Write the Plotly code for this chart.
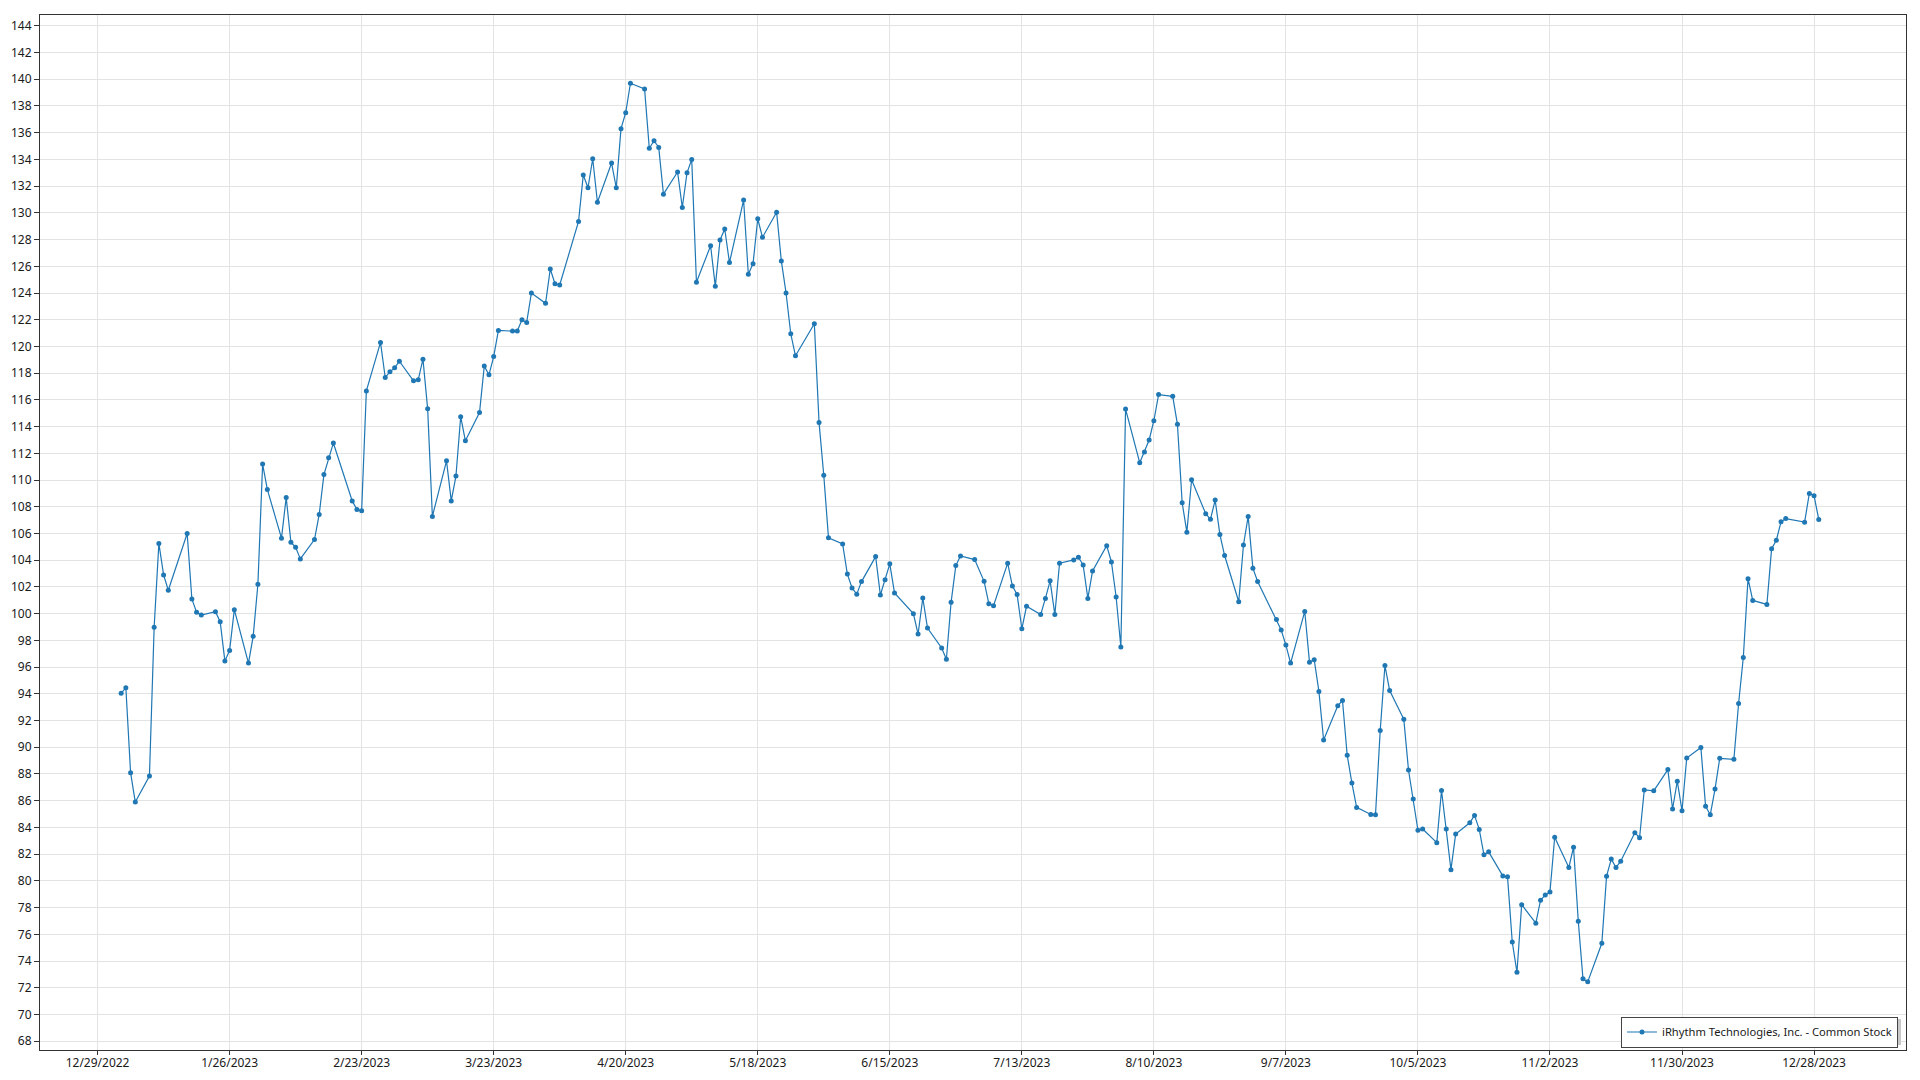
import pandas as pd
import plotly.graph_objects as go

series_name = "iRhythm Technologies, Inc. - Common Stock"

market_holidays = ["2023-01-02", "2023-01-16", "2023-02-20", "2023-04-07", "2023-05-29",
                   "2023-06-19", "2023-07-04", "2023-09-04", "2023-11-23", "2023-12-25"]
trade_dates = pd.bdate_range("2023-01-03", "2023-12-29", freq="C", holidays=market_holidays)

prices_jan_feb = [94.05, 94.45, 88.1, 85.9, 87.85, 98.98, 105.26, 102.9, 101.75, 106.0, 101.1, 100.1,
                  99.9, 100.15, 99.4, 96.45, 97.25, 100.3, 96.3, 98.3, 102.2, 111.2, 109.3,
                  105.65, 108.7, 105.35, 104.97, 104.1, 105.55, 107.43, 110.41, 111.67, 112.77,
                  108.44, 107.8, 107.7, 116.67, 120.3, 117.68]
prices_mar_apr = [118.1, 118.4, 118.9, 117.43, 117.5, 119.05, 115.33,
                  107.28, 111.44, 108.44, 110.3, 114.74, 112.94, 115.06, 118.53, 117.88, 119.24,
                  121.2, 121.15, 121.15, 122.0, 121.8, 124.0, 123.23, 125.8, 124.7, 124.6, 129.36,
                  132.84, 131.88, 134.05, 130.79, 133.73, 131.88, 136.3, 137.5, 139.7, 139.28,
                  134.84, 135.4, 134.9, 131.4]
prices_may_jun = [133.06, 130.4, 133.0, 134.0, 124.8, 127.54, 124.5, 127.97, 128.79, 126.28,
                  130.96, 125.41, 126.2, 129.56, 128.17, 130.05, 126.4, 124.0, 120.95, 119.3,
                  121.7, 114.3, 110.36, 105.68, 105.22, 102.96, 101.92, 101.46, 102.4, 104.27,
                  101.4, 102.53, 103.73, 101.55, 100.0, 98.47, 101.17, 98.92, 97.43, 96.59,
                  100.85, 103.6, 104.32]
prices_jul_aug = [104.05, 102.42, 100.75, 100.6, 103.78, 102.07, 101.43, 98.87, 100.55, 99.93,
                  101.14, 102.46, 99.93, 103.77, 104.02, 104.22, 103.65, 101.14, 103.2, 105.09,
                  103.87, 101.25, 97.5, 115.31, 111.3, 112.1, 113.0, 114.44, 116.4, 116.27,
                  114.17, 108.3, 106.1, 110.02, 107.48, 107.06, 108.5, 105.93, 104.35, 100.89,
                  105.14, 107.28, 103.4, 102.41]
prices_sep_oct = [99.56, 98.78, 97.65, 96.3, 100.17, 96.37, 96.55, 94.18, 90.54, 93.11, 93.5,
                  89.4, 87.32, 85.5, 84.97, 84.95, 91.26, 96.12, 94.25, 92.1, 88.3, 86.13, 83.78,
                  83.88, 82.86, 86.76, 83.88, 80.84, 83.5, 84.35, 84.9, 83.85, 81.95, 82.17,
                  80.37, 80.3, 75.43, 73.16, 78.22, 76.83, 78.55]
prices_nov_dec = [78.95, 79.17, 83.26, 81.0, 82.52, 76.98, 72.67, 72.44, 75.33, 80.35, 81.63,
                  81.0, 81.47, 83.6, 83.23, 86.81, 86.74, 88.33, 85.38, 87.46, 85.25, 89.2,
                  89.98, 85.58, 84.95, 86.87, 89.17, 89.1, 93.28, 96.72, 102.62, 100.99, 100.69,
                  104.86, 105.5, 106.88, 107.12, 106.85, 109.0, 108.83, 107.05]

prices = prices_jan_feb + prices_mar_apr + prices_may_jun + prices_jul_aug + prices_sep_oct + prices_nov_dec
assert len(prices) == len(trade_dates), (len(prices), len(trade_dates))

y_ticks = list(range(68, 145, 2))

color = "#1f77b4"
font_family = "Noto Sans, Open Sans, sans-serif"

# plot area in pixels (for placing the legend and its drop shadow)
M_L, M_R, M_T, M_B = 40, 14, 15, 30
PW, PH = 1920 - M_L - M_R, 1080 - M_T - M_B


def px_x(p):
    return (p - M_L) / PW


def px_y(p):
    return (1080 - M_B - p) / PH


fig = go.Figure()
fig.add_trace(go.Scatter(
    x=trade_dates, y=prices, mode="lines+markers", name=series_name,
    line=dict(color=color, width=1.2),
    marker=dict(color=color, size=5, symbol="circle"),
    showlegend=True,
))

# legend drop shadow
fig.add_shape(type="rect", xref="paper", yref="paper", layer="above",
              x0=px_x(1622), x1=px_x(1901), y0=px_y(1045), y1=px_y(1019),
              fillcolor="#c8c8c8", line=dict(width=0))

fig.update_layout(
    width=1920, height=1080,
    margin=dict(l=M_L, r=M_R, t=M_T, b=M_B, autoexpand=False),
    paper_bgcolor="white", plot_bgcolor="white",
    font=dict(family=font_family, size=12, color="#1a1a1a"),
    showlegend=True,
    legend=dict(
        x=px_x(1898), y=px_y(1047.5), xanchor="right", yanchor="bottom",
        bgcolor="white", bordercolor="#444444", borderwidth=1,
        font=dict(family=font_family, size=11.2, color="#1a1a1a"),
        itemwidth=30,
    ),
)

fig.update_xaxes(
    range=["2022-12-16 19:00", "2024-01-16 12:00"],
    tick0="2022-12-29", dtick=28 * 86400000, tickformat="%-m/%-d/%Y",
    showgrid=True, gridcolor="#e3e3e3", gridwidth=1,
    ticks="outside", ticklen=4, tickcolor="#333333", ticklabelstandoff=-2,
    showline=True, linecolor="#333333", linewidth=1, mirror=True,
    zeroline=False,
)
fig.update_yaxes(
    range=[67.34, 144.81],
    tickvals=y_ticks,
    showgrid=True, gridcolor="#e3e3e3", gridwidth=1,
    ticks="outside", ticklen=5, tickcolor="#333333",
    showline=True, linecolor="#333333", linewidth=1, mirror=True,
    zeroline=False,
)

fig.write_html("out.html", config={"displayModeBar": False},
               post_script="document.body.style.margin='0';")
